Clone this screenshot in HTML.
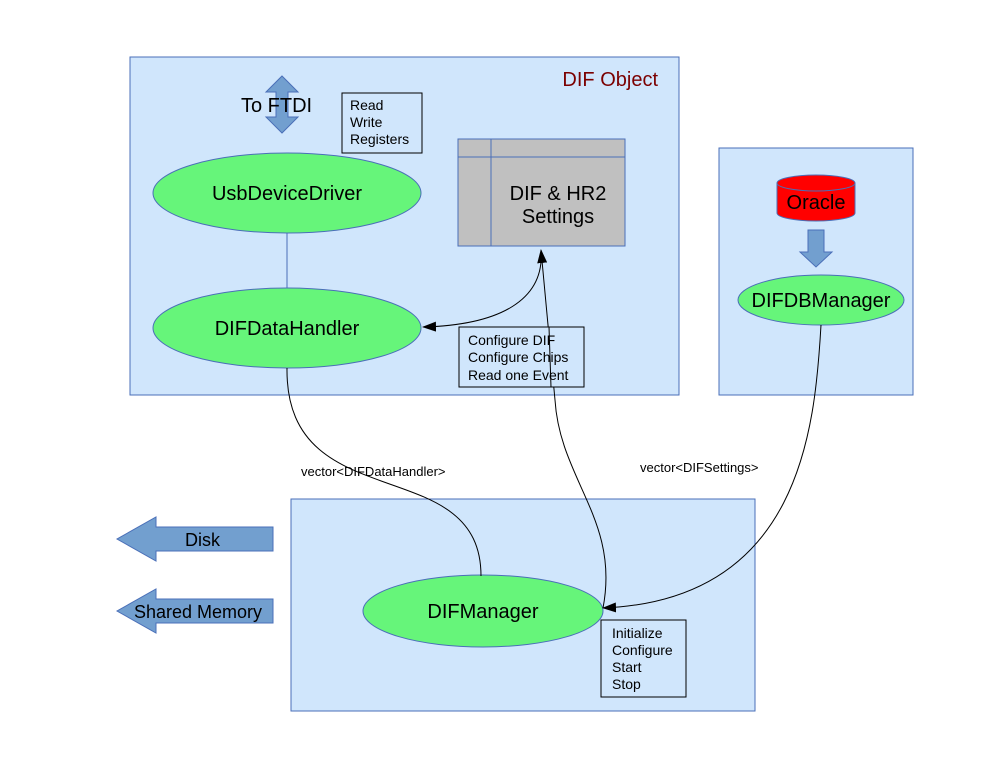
<!DOCTYPE html>
<html><head><meta charset="utf-8"><style>body{margin:0;background:#fff}svg{display:block;font-family:"Liberation Sans",sans-serif}</style></head><body>
<svg width="990" height="765" viewBox="0 0 990 765" xmlns="http://www.w3.org/2000/svg">
<defs><marker id="a" markerWidth="14" markerHeight="10" refX="13" refY="5" orient="auto" markerUnits="userSpaceOnUse"><path d="M0,0L14,5L0,10z" fill="#000"/></marker></defs>
<rect x="0" y="0" width="990" height="765" fill="#fff"/>
<g fill="#d0e6fc" stroke="#4a6fb8" stroke-width="1">
<rect x="130" y="57" width="549" height="338"/>
<rect x="719" y="148" width="194" height="247"/>
<rect x="291" y="499" width="464" height="212"/>
</g>
<text x="658" y="86" font-size="20" fill="#7b0000" text-anchor="end">DIF Object</text>
<!-- double arrow -->
<path d="M282,76 L298,92 L288,92 L288,117 L298,117 L282,133 L266,117 L276,117 L276,92 L266,92 Z" fill="#729fcf" stroke="#4a6fb8"/>
<text x="241" y="112" font-size="20">To FTDI</text>
<rect x="342" y="93" width="80" height="60" fill="#d0e6fc" stroke="#000"/>
<text font-size="14"><tspan x="350" y="110">Read</tspan><tspan x="350" y="127">Write</tspan><tspan x="350" y="144">Registers</tspan></text>
<line x1="287" y1="233" x2="287" y2="288" stroke="#4a6fb8"/>
<g fill="#66f57a" stroke="#4a6fb8">
<ellipse cx="287" cy="193" rx="134" ry="40"/>
<ellipse cx="287" cy="328" rx="134" ry="40"/>
<ellipse cx="821" cy="300" rx="83" ry="25"/>
<ellipse cx="483" cy="611" rx="120" ry="36"/>
</g>
<text x="287" y="200" font-size="20" text-anchor="middle">UsbDeviceDriver</text>
<text x="287" y="335" font-size="20" text-anchor="middle">DIFDataHandler</text>
<text x="821" y="307" font-size="20" text-anchor="middle">DIFDBManager</text>
<text x="483" y="618" font-size="20" text-anchor="middle">DIFManager</text>
<rect x="458" y="139" width="167" height="107" fill="#c0c0c0" stroke="#4a6fb8"/>
<line x1="458" y1="157" x2="625" y2="157" stroke="#4a6fb8"/>
<line x1="491" y1="139" x2="491" y2="246" stroke="#4a6fb8"/>
<text x="558" y="200" font-size="20" text-anchor="middle">DIF &amp; HR2</text>
<text x="558" y="223" font-size="20" text-anchor="middle">Settings</text>
<!-- oracle -->
<path d="M777,183 L777,213 A39,8 0 0 0 855,213 L855,183" fill="#ff0000" stroke="#4a6fb8"/>
<ellipse cx="816" cy="183" rx="39" ry="8" fill="#ff0000" stroke="#4a6fb8"/>
<text x="816" y="209" font-size="20" text-anchor="middle">Oracle</text>
<path d="M808,230 L824,230 L824,252 L832,252 L816,267 L800,252 L808,252 Z" fill="#729fcf" stroke="#4a6fb8"/>
<!-- left arrows -->
<path d="M273,527 L156,527 L156,517 L117,539 L156,561 L156,551 L273,551 Z" fill="#729fcf" stroke="#4a6fb8"/>
<text x="185" y="546" font-size="18">Disk</text>
<path d="M273,599 L156,599 L156,589 L117,611 L156,633 L156,623 L273,623 Z" fill="#729fcf" stroke="#4a6fb8"/>
<text x="134" y="618" font-size="18">Shared Memory</text>
<!-- curves -->
<g fill="none" stroke="#000" stroke-width="1">
<path d="M541,250 C545,300 500,325 423,327" marker-end="url(#a)"/>
<path d="M603,608 C620,520 560,480 555,400 L541,250" marker-end="url(#a)"/>
<path d="M287,368 C285,520 481,450 481,576"/>
<path d="M821,325 C815,430 800,600 603,608" marker-end="url(#a)"/>
</g>
<rect x="459" y="327" width="125" height="60" fill="#d0e6fc" stroke="#000"/>
<line x1="549" y1="327" x2="551" y2="387" stroke="#000"/>
<text font-size="14"><tspan x="468" y="345">Configure DIF</tspan><tspan x="468" y="362">Configure Chips</tspan><tspan x="468" y="380">Read one Event</tspan></text>
<text x="301" y="476" font-size="13">vector&lt;DIFDataHandler&gt;</text>
<text x="640" y="472" font-size="13">vector&lt;DIFSettings&gt;</text>
<rect x="601" y="620" width="85" height="77" fill="#d0e6fc" stroke="#000"/>
<text font-size="14"><tspan x="612" y="638">Initialize</tspan><tspan x="612" y="655">Configure</tspan><tspan x="612" y="672">Start</tspan><tspan x="612" y="689">Stop</tspan></text>
</svg>
</body></html>
